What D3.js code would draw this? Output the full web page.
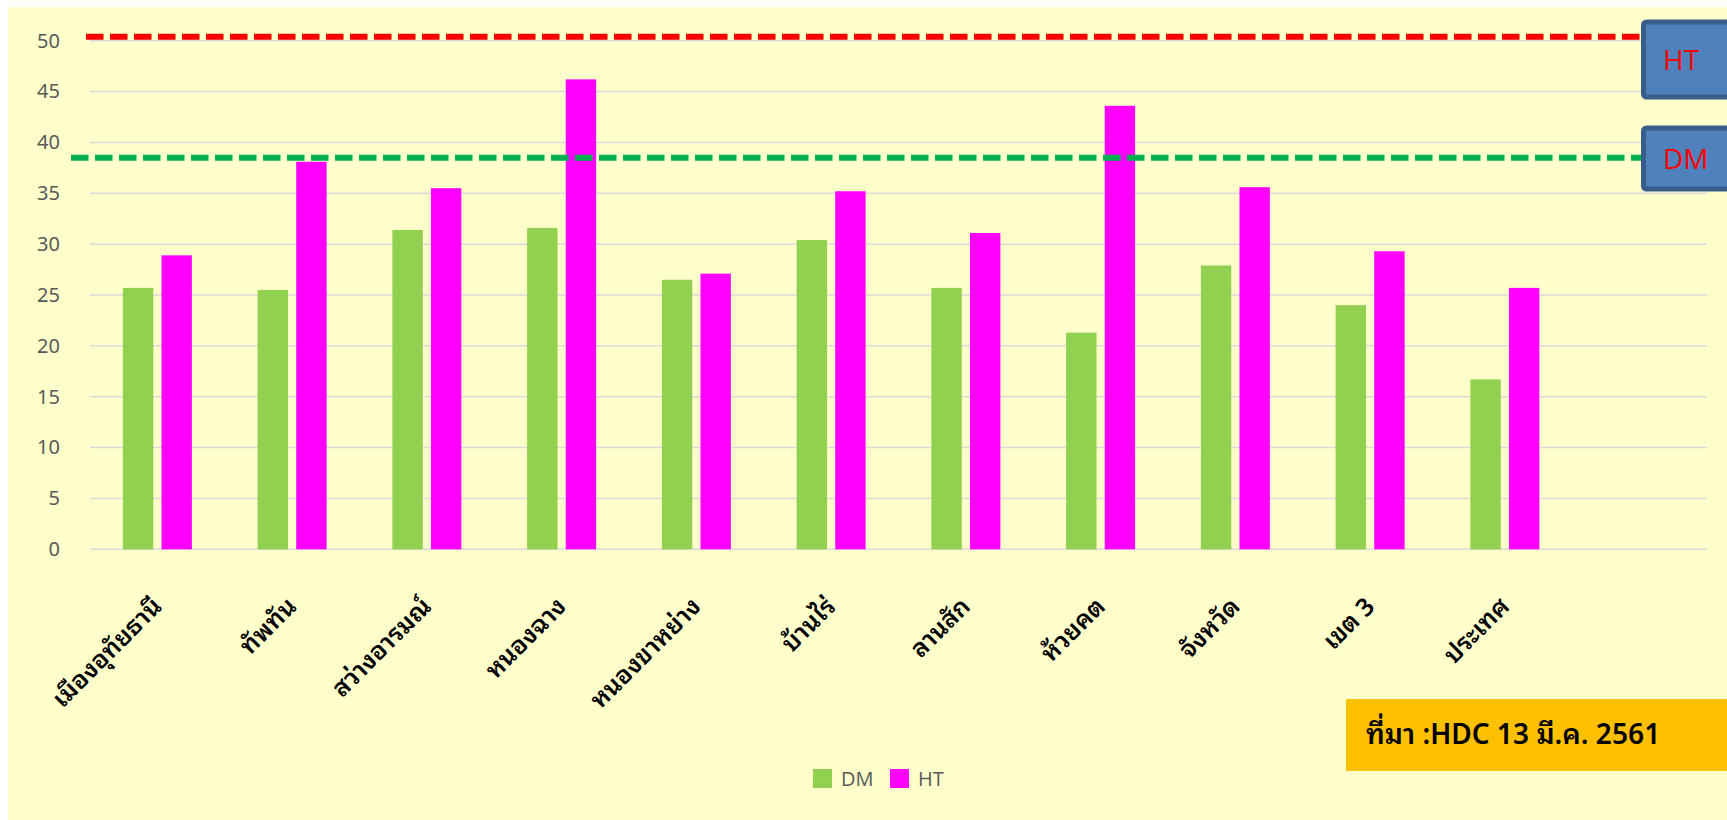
<!DOCTYPE html>
<html>
<head>
<meta charset="utf-8">
<script src="https://cdn.jsdelivr.net/npm/d3@7"></script>
<style>
  html, body { margin: 0; padding: 0; background: #ffffff; }
  svg { display: block; }
  text { font-family: "Noto Sans Thai Looped", "Noto Sans Thai", Tahoma, "Noto Sans", "DejaVu Sans", sans-serif; }
</style>
</head>
<body>
<svg id="chart" width="1727" height="820"></svg>
<script>
// Districts of Uthai Thani (zone 3), then province, zone and country
const categories = ["เมืองอุทัยธานี", "ทัพทัน", "สว่างอารมณ์", "หนองฉาง", "หนองขาหย่าง",
                    "บ้านไร่", "ลานสัก", "ห้วยคต", "จังหวัด", "เขต 3", "ประเทศ"];
const seriesNames = ["DM", "HT"];
const dmValues = [25.7, 25.5, 31.4, 31.6, 26.5, 30.4, 25.7, 21.3, 27.9, 24.0, 16.7];
const htValues = [28.9, 38.1, 35.5, 46.2, 27.1, 35.2, 31.1, 43.6, 35.6, 29.3, 25.7];
const yTicks = [0, 5, 10, 15, 20, 25, 30, 35, 40, 45, 50];
// Target levels drawn as dashed reference lines
const htTarget = 50.4;
const dmTarget = 38.5;
const sourceText = "ที่มา :HDC 13 มี.ค. 2561";

const colors = { DM: "#92D050", HT: "#FF00FF" };

const svg = d3.select("#chart");

// chart background
svg.append("rect").attr("x", 8).attr("y", 7).attr("width", 1719).attr("height", 813)
  .attr("fill", "#FFFFCC");

const plotLeft = 90, plotRight = 1707;
const slot = (plotRight - plotLeft) / 12;

const x = d3.scaleBand()
  .domain(categories)
  .range([plotLeft, plotLeft + slot * categories.length])
  .paddingInner(0).paddingOuter(0);

const clusterWidth = 69;
const xSub = d3.scaleBand()
  .domain(seriesNames)
  .range([(slot - clusterWidth) / 2, (slot + clusterWidth) / 2])
  .paddingInner(0.2124).paddingOuter(0);

const y = d3.scaleLinear().domain([0, 50]).range([549.3, 40.7]);

// gridlines
svg.append("g")
  .selectAll("line").data(yTicks).join("line")
  .attr("x1", plotLeft).attr("x2", plotRight)
  .attr("y1", d => y(d)).attr("y2", d => y(d))
  .attr("stroke", "#D9D9D9").attr("stroke-width", 1.5);

// y axis labels
const yAxis = d3.axisLeft(y).tickValues(yTicks).tickSize(0).tickPadding(0);
const yAxisG = svg.append("g").attr("transform", "translate(60,0)").call(yAxis);
yAxisG.select(".domain").remove();
yAxisG.selectAll("text")
  .attr("fill", "#595959")
  .style("font-family", "'Noto Sans', 'Open Sans', sans-serif")
  .style("font-size", "20px");

// bars
const rows = categories.map((c, i) => ({ cat: c, DM: dmValues[i], HT: htValues[i] }));
const groups = svg.append("g").selectAll("g").data(rows).join("g")
  .attr("transform", d => `translate(${x(d.cat)},0)`);
groups.selectAll("rect")
  .data(d => seriesNames.map(k => ({ key: k, value: d[k] })))
  .join("rect")
  .attr("x", d => xSub(d.key))
  .attr("width", xSub.bandwidth())
  .attr("y", d => y(d.value))
  .attr("height", d => y(0) - y(d.value))
  .attr("fill", d => colors[d.key]);

// category labels, rotated
svg.append("g").selectAll("text").data(categories).join("text")
  .attr("transform", d => `translate(${x(d) + slot / 2 + 6},608) rotate(-45)`)
  .attr("text-anchor", "end")
  .attr("fill", "#000")
  .style("font-size", "25px")
  .style("font-weight", "600")
  .text(d => d);

// dashed target lines
const boxLeft = 1641;
svg.append("line")
  .attr("x1", 86).attr("x2", boxLeft).attr("y1", y(htTarget)).attr("y2", y(htTarget))
  .attr("stroke", "#FF0000").attr("stroke-width", 6).attr("stroke-dasharray", "17.5 6.5");
svg.append("line")
  .attr("x1", 71).attr("x2", boxLeft).attr("y1", y(dmTarget)).attr("y2", y(dmTarget))
  .attr("stroke", "#00B050").attr("stroke-width", 6).attr("stroke-dasharray", "17.5 6.5");

// target tags
const tags = [
  { name: "HT", top: 22, bottom: 97 },
  { name: "DM", top: 128, bottom: 189 }
];
const tagG = svg.append("g").selectAll("g").data(tags).join("g");
tagG.append("rect")
  .attr("x", boxLeft + 2.5).attr("y", d => d.top)
  .attr("width", 120).attr("height", d => d.bottom - d.top)
  .attr("rx", 3)
  .attr("fill", "#4F81BD").attr("stroke", "#385D8A").attr("stroke-width", 5);
tagG.append("text")
  .attr("x", 1663).attr("y", d => (d.top + d.bottom) / 2 + 10)
  .attr("fill", "#FF0000")
  .style("font-family", "'Open Sans', 'Noto Sans', sans-serif")
  .style("font-size", "28px")
  .text(d => d.name);

// data source note
svg.append("rect").attr("x", 1346).attr("y", 699).attr("width", 381).attr("height", 72)
  .attr("fill", "#FFC000");
svg.append("text").attr("x", 1366).attr("y", 744)
  .attr("fill", "#000")
  .style("font-size", "28px").style("font-weight", "600")
  .text(sourceText);

// legend
const legend = svg.append("g").selectAll("g").data(seriesNames).join("g")
  .attr("transform", (d, i) => `translate(${813 + i * 77},769)`);
legend.append("rect").attr("width", 19).attr("height", 19).attr("fill", d => colors[d]);
legend.append("text").attr("x", 28).attr("y", 17)
  .attr("fill", "#595959")
  .style("font-family", "'Open Sans', 'Noto Sans', sans-serif")
  .style("font-size", "20px")
  .text(d => d);
</script>
</body>
</html>
